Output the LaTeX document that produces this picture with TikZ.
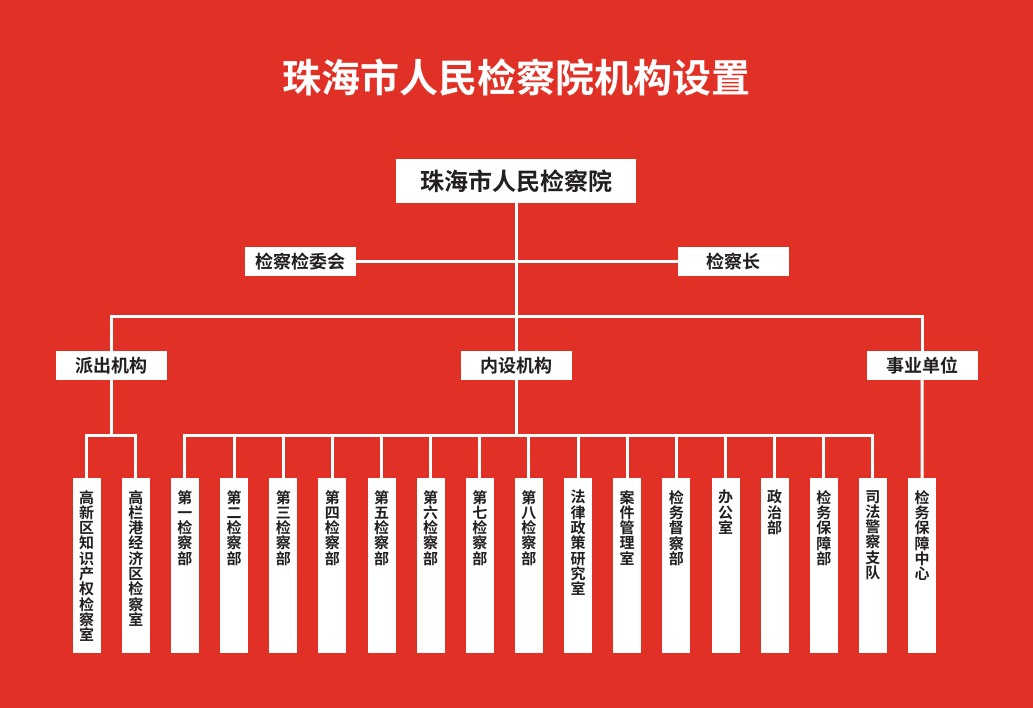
\documentclass[tikz,border=0pt]{standalone}
\usepackage{fontspec}
\newfontfamily\cjk{Noto Sans CJK SC}[BoldFont={Noto Sans CJK SC Bold}]
\XeTeXlinebreaklocale "zh"
\XeTeXlinebreakskip = 0pt plus 1pt
\usepackage{tikz}
\usetikzlibrary{positioning}
\definecolor{bgred}{RGB}{225,49,38}
\definecolor{ink}{RGB}{35,31,32}

\begin{document}
\begin{tikzpicture}[x=1pt, y=-1pt,
    conn/.style={draw=white, line width=3pt},
    bb/.style={%
      rectangle, draw=none, fill=white, text=ink,
      minimum width=111pt, minimum height=29pt, inner sep=0pt, outer sep=0pt,
      font=\cjk\bfseries\fontsize{18}{18}\selectfont
    },
    col/.style={%
      rectangle, draw=none, fill=white, anchor=north,
      minimum width=28pt, minimum height=175pt, inner sep=0pt, outer sep=0pt
    },
    vt/.style={%
      anchor=north, text=ink, text width=16pt, align=center, inner sep=0pt,
      yshift=-12pt, font=\cjk\bfseries\fontsize{15}{15.3}\selectfont
    }
]
    \fill[bgred] (0,0) rectangle (1033,708);
    \useasboundingbox (0,0) rectangle (1033,708);

    \node[text=white, font=\cjk\bfseries\fontsize{39}{39}\selectfont] (title) at (516,78) {珠海市人民检察院机构设置};

    \node[bb, minimum width=240pt, minimum height=44pt,
          font=\cjk\bfseries\fontsize{24}{24}\selectfont] (top) at (516,181.5) {珠海市人民检察院};
    \node[bb] (wjh) at (300.5,261.5) {检察检委会};
    \node[bb] (jcz) at (733,261.5)   {检察长};
    \node[bb] (pc)  at (111,365.5)   {派出机构};
    \node[bb] (ns)  at (516,365.5)   {内设机构};
    \node[bb] (sy)  at (922,365.5)   {事业单位};

    \coordinate (bar) at (516,317);
    \coordinate (pcb) at (111,435);
    \coordinate (nsb) at (516,435);

    % columns
    \node[col, label={[vt]north:高新区知识产权检察室}] (c1) at (86.7,478) {};
    \node[col, label={[vt]north:高栏港经济区检察室}]   (c2)  [right=21.14pt of c1]  {};
    \node[col, label={[vt]north:第一检察部}]           (c3)  [right=21.14pt of c2]  {};
    \node[col, label={[vt]north:第二检察部}]           (c4)  [right=21.14pt of c3]  {};
    \node[col, label={[vt]north:第三检察部}]           (c5)  [right=21.14pt of c4]  {};
    \node[col, label={[vt]north:第四检察部}]           (c6)  [right=21.14pt of c5]  {};
    \node[col, label={[vt]north:第五检察部}]           (c7)  [right=21.14pt of c6]  {};
    \node[col, label={[vt]north:第六检察部}]           (c8)  [right=21.14pt of c7]  {};
    \node[col, label={[vt]north:第七检察部}]           (c9)  [right=21.14pt of c8]  {};
    \node[col, label={[vt]north:第八检察部}]           (c10) [right=21.14pt of c9]  {};
    \node[col, label={[vt]north:法律政策研究室}]       (c11) [right=21.14pt of c10] {};
    \node[col, label={[vt]north:案件管理室}]           (c12) [right=21.14pt of c11] {};
    \node[col, label={[vt]north:检务督察部}]           (c13) [right=21.14pt of c12] {};
    \node[col, label={[vt]north:办公室}]               (c14) [right=21.14pt of c13] {};
    \node[col, label={[vt]north:政治部}]               (c15) [right=21.14pt of c14] {};
    \node[col, label={[vt]north:检务保障部}]           (c16) [right=21.14pt of c15] {};
    \node[col, label={[vt]north:司法警察支队}]         (c17) [right=21.14pt of c16] {};
    \node[col, label={[vt]north:检务保障中心}]         (c18) [right=21.14pt of c17] {};

    \draw[conn] (top) -- (ns);
    \draw[conn] (ns) -- (nsb);
    \draw[conn] (wjh) -- (jcz);
    \draw[conn] (pc.north) |- (bar) -| (sy.north);
    \draw[conn] (pc) -- (pcb);
    \draw[conn] (c1.north) |- (pcb) -| (c2.north);
    \draw[conn] (c3.north) |- (nsb) -| (c17.north);
    \draw[conn] (sy) -- (c18);
    \path[conn] (c4.north)  edge (c4.north |- nsb)
                (c5.north)  edge (c5.north |- nsb)
                (c6.north)  edge (c6.north |- nsb)
                (c7.north)  edge (c7.north |- nsb)
                (c8.north)  edge (c8.north |- nsb)
                (c9.north)  edge (c9.north |- nsb)
                (c10.north) edge (c10.north |- nsb)
                (c11.north) edge (c11.north |- nsb)
                (c12.north) edge (c12.north |- nsb)
                (c13.north) edge (c13.north |- nsb)
                (c14.north) edge (c14.north |- nsb)
                (c15.north) edge (c15.north |- nsb)
                (c16.north) edge (c16.north |- nsb)
    ;

\end{tikzpicture}
\end{document}
